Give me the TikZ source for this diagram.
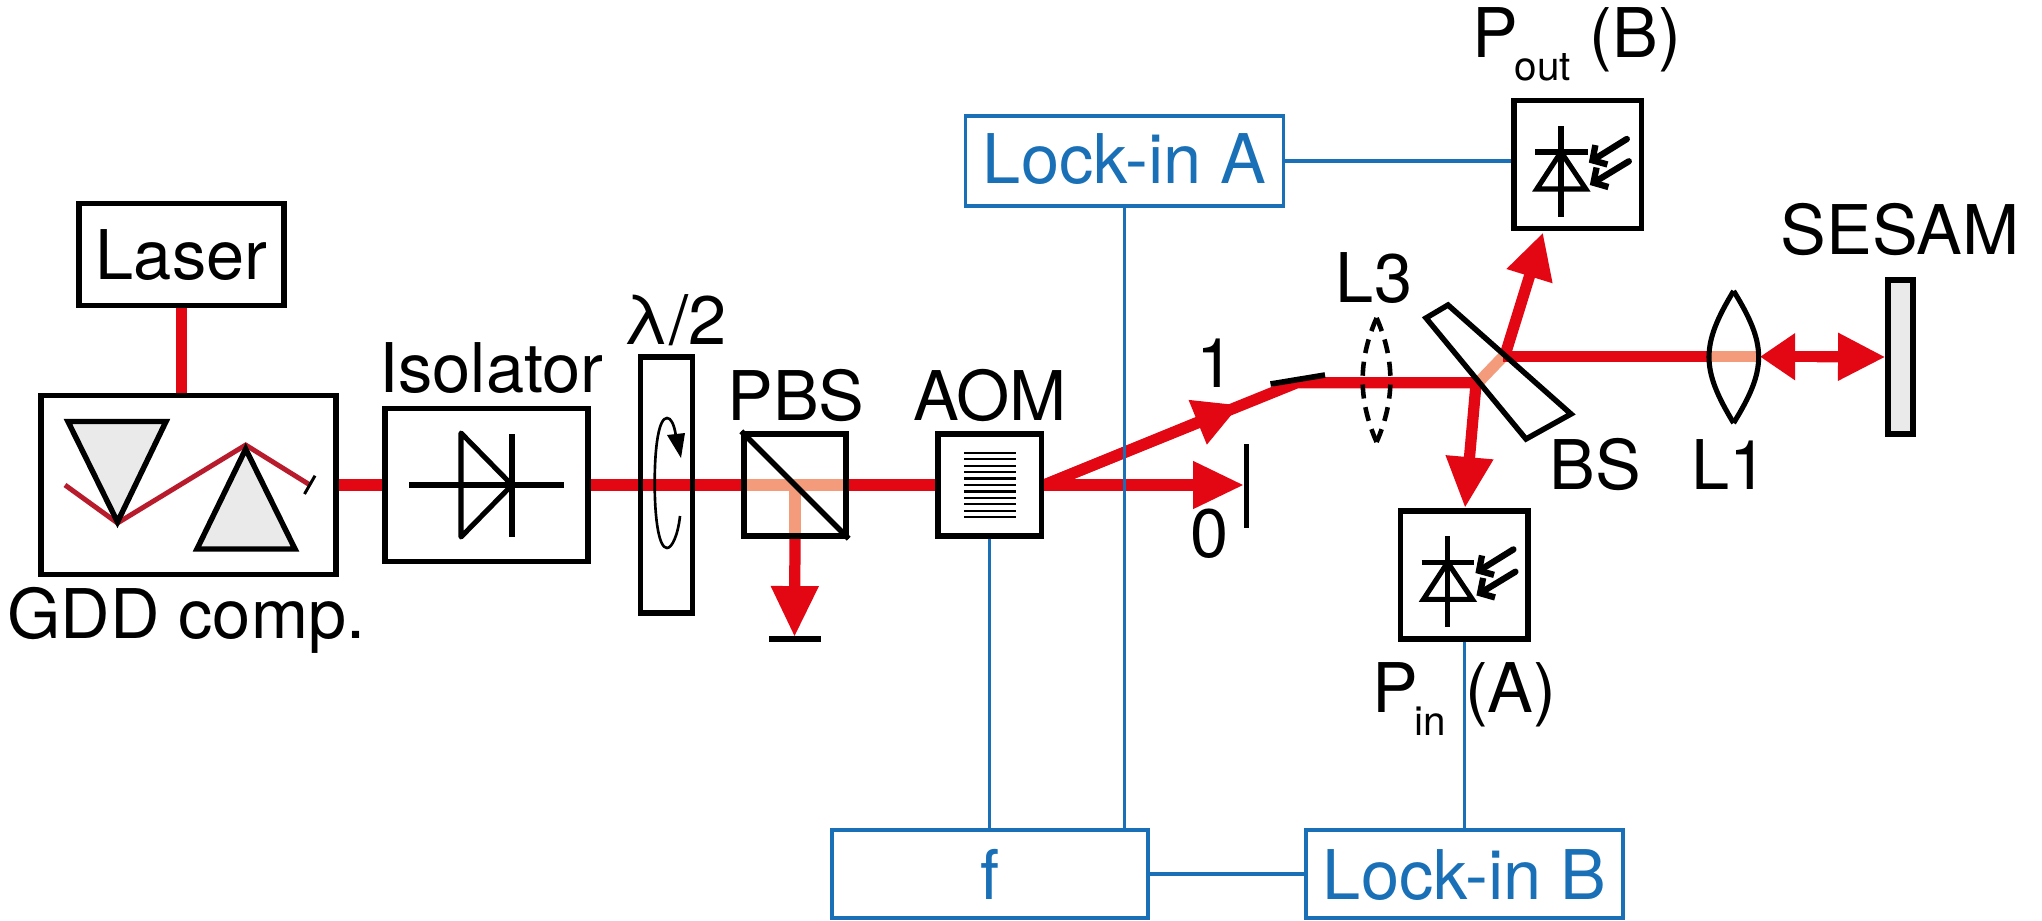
\documentclass[tikz,border=0pt]{standalone}
\usepackage{fontspec}
\setmainfont{TeX Gyre Heros}
\usetikzlibrary{arrows.meta,backgrounds}
\definecolor{beamred}{HTML}{E30613}
\definecolor{beamlight}{HTML}{F39B7B}
\definecolor{beamdark}{HTML}{B81C2C}
\definecolor{sigblue}{HTML}{1A70B7}
\definecolor{prismgray}{HTML}{EAEAEA}
\def\px{0.02cm}
\newcommand{\labfont}{\fontsize{39}{41}\selectfont}
\newcommand{\subfont}{\fontsize{23}{25}\selectfont}
\tikzset{
  blackline/.style={draw=black,line width=3.1pt,miter limit=10},
  thinblack/.style={draw=black,line width=2.9pt},
  opticbox/.style={blackline,inner sep=0pt,font=\labfont,text height=28.5pt,text depth=0pt},
  sigbox/.style={draw=sigblue,text=sigblue,line width=2pt,inner sep=0pt,font=\labfont,text height=28.5pt,text depth=0pt},
  sigline/.style={draw=sigblue,line width=1.8pt},
  lab/.style={inner sep=0pt,anchor=base,font=\labfont},
  beam/.style={draw=beamred,line width=6.4pt},
  lightbeam/.style={draw=beamlight,line width=6.4pt},
  darkbeam/.style={draw=beamdark,line width=2.8pt},
  bigtip/.style={-{Triangle[length=29pt,width=25.5pt]}},
  prism/.style={blackline,fill=prismgray},
  lightarrow/.style={draw=black,line width=3.6pt,line cap=round,-{Straight Barb[length=6pt,width=13pt]}}
}
\newcommand{\photodiode}[2]{%
  \begin{scope}[shift={(#1,#2)}]
    \draw[thinblack] (-16.8,-38.6) -- (-16.8,52);
    \draw[thinblack] (-42.8,-12.6) -- (9.8,-12.6);
    \draw[thinblack] (-16.8,-12.6) -- (-41,24.4) -- (8,24.4) -- cycle;
    \draw[lightarrow] (49,-25.6) -- (11,-2);
    \draw[lightarrow] (51,-3.3) -- (12,20.4);
  \end{scope}}
\begin{document}
\begin{tikzpicture}[x=\px,y=-\px]
\useasboundingbox (0,0) rectangle (2042,920);

% boxes
\node[opticbox,minimum width=205*\px,minimum height=102*\px] (laser) at (181.5,254.5) {Laser};
\node[opticbox,minimum width=295*\px,minimum height=179*\px] (gdd) at (188.5,485) {};
\node[opticbox,minimum width=203*\px,minimum height=153.5*\px] (iso) at (486.5,485) {};
\node[opticbox,minimum width=51.5*\px,minimum height=256*\px] (hwp) at (666.5,485) {};
\node[opticbox,minimum width=102*\px,minimum height=102*\px] (pbs) at (795,485) {};
\node[opticbox,minimum width=103.5*\px,minimum height=102*\px] (aom) at (989.7,485) {};
\node[opticbox,minimum width=127.5*\px,minimum height=128.2*\px] (pdout) at (1577.8,164.6) {};
\node[opticbox,minimum width=127.5*\px,minimum height=128.2*\px] (pdin) at (1464.4,575) {};
\node[sigbox,minimum width=318*\px,minimum height=90.5*\px,text height=26pt] (lockA) at (1124.5,161) {Lock-in A};
\node[sigbox,minimum width=316*\px,minimum height=88*\px] (freq) at (990,874) {f};
\node[sigbox,minimum width=317*\px,minimum height=88*\px] (lockB) at (1464.5,874) {Lock-in B};
\node[draw=black,line width=2.9pt,fill=prismgray,inner sep=0pt,minimum width=25*\px,minimum height=154*\px] (sesam) at (1900.5,357) {};

% free ends of the beams
\coordinate (pbsc) at (pbs.center |- pbs.west);
\coordinate (pbsdown) at (pbs.center |- pbs.south);
\coordinate (stopc) at (794.5,637);
\coordinate (zerotip) at (1244,485);
\coordinate (onetip) at (1240,405);
\coordinate (mirr) at (1297,382.7);
\coordinate (bsin) at (1478,382.7);
\coordinate (bsout) at (1503,356.7);
\coordinate (l1l) at (1708,356.7);
\coordinate (l1r) at (1760,356.7);

% beams
\begin{scope}[on background layer]
  \draw[beam] (laser.south) -- (laser.south |- gdd.north);
  \draw[beam] (gdd.east) -- (iso.west);
  \draw[beam] (iso.east) -- (pbs.west);
  \draw[lightbeam] (pbs.west) -- (pbs.east);
  \draw[lightbeam] (pbsc) -- (pbsdown);
  \draw[beam] (pbs.east) -- (aom.west);
  \draw[beam,bigtip] (pbsdown) -- (stopc);
  \draw[beam,bigtip] (aom.east) -- (zerotip);
  \draw[beam] (aom.east) -- (mirr) -- (bsin);
  \draw[beam,-{Triangle[length=26pt,width=25.5pt]}] (aom.east) -- (onetip);
  \draw[lightbeam] (bsin) -- (bsout);
  \draw[beam] (bsout) -- (l1l);
  \draw[lightbeam] (l1l) -- (l1r);
  \draw[beam,-{Triangle[length=20pt,width=25.5pt]}] (1817,356.7) -- (l1r);
  \draw[beam,-{Triangle[length=27pt,width=25.5pt]}] (1817,356.7) -- (sesam.west);
  \draw[beam,-{Triangle[length=26pt,width=25.5pt]}] (1506,352) -- (1543,232.5);
  \draw[beam,-{Triangle[length=29pt,width=25.5pt]}] (1476,384) -- (1465,508);
\end{scope}

% signal lines
\draw[sigline] (aom.south) -- (aom.south |- freq.north);
\draw[sigline] (lockA.south) -- (lockA.south |- freq.north);
\draw[sigline] (lockA.east) -- (lockA.east -| pdout.west);
\draw[sigline] (freq.east) -- (lockB.west);
\draw[sigline] (pdin.south) -- (pdin.south |- lockB.north);

% prism compressor
\draw[darkbeam] (65,485) -- (117.5,523) -- (245.7,445) -- (310,485);
\draw[prism] (68,421.5) -- (166,421.5) -- (117.5,522) -- cycle;
\draw[prism] (197,549) -- (295,549) -- (245.7,449) -- cycle;
\draw[draw=black,line width=1.7pt] (315,475.7) -- (304.5,494);

% isolator diode
\draw[thinblack,line join=round] (461,433) -- (512,485) -- (461,537) -- cycle;
\draw[thinblack] (512,434) -- (512,536.5);
\draw[thinblack] (409,485) -- (564,485);

% half-wave plate rotation
\draw[draw=black,line width=1.5pt] (680,516) .. controls (678,535) and (672,548) .. (667,548) .. controls (659,548) and (654.7,520) .. (654.7,483) .. controls (654.7,445) and (659,418) .. (667,418) .. controls (671,418) and (674,424) .. (676,436);
\fill[black] (667,435) -- (685,433) -- (681,458) -- cycle;

% PBS diagonal, stops
\draw[blackline] (pbs.north west) -- (pbs.south east);
\draw[draw=black,line width=3.4pt] (769,638.7) -- (820.5,638.7);
\draw[draw=black,line width=2.4pt] (1246.5,444.3) -- (1246.5,527.7);

% AOM grating
\foreach \i in {0,...,10}
  \draw[draw=black,line width=1.2pt] (964.4,452.7+6.46*\i) -- (1016,452.7+6.46*\i);

% mirror, dashed lens
\draw[draw=black,line width=3.2pt] (1270.5,384) -- (1325,375);
\draw[draw=black,line width=2.6pt,dash pattern=on 8pt off 5pt] (1376.6,318) .. controls (1358,360) and (1358,400) .. (1376.6,442);
\draw[draw=black,line width=2.6pt,dash pattern=on 8pt off 5pt] (1376.6,318) .. controls (1395,360) and (1395,400) .. (1376.6,442);

% beam splitter, lens L1
\draw[blackline] (1426,318) -- (1448,305) -- (1571,414) -- (1526,439) -- cycle;
\draw[thinblack] (1733.6,291) .. controls (1700.8,345) and (1700.8,369) .. (1733.6,423);
\draw[thinblack] (1733.6,291) .. controls (1767,345) and (1767,369) .. (1733.6,423);

% photodiodes
\photodiode{1577.8}{164.6}
\photodiode{1464.4}{575}

% text
\node[lab] (tiso) at (491.5,392.3) {Isolator};
\node[lab] (tgdd) at (186.5,638) {GDD comp.};
\node[lab] (thwp) at (675,344) {λ/2};
\node[lab] (tpbs) at (796,420.7) {PBS};
\node[lab] (taom) at (990,420.7) {AOM};
\node[lab] (tone) at (1216,387) {1};
\node[lab] (tzero) at (1210,557) {0};
\node[lab] (tlthree) at (1374,302) {L3};
\node[lab] (tsesam) at (1900,254) {SESAM};
\node[lab] (tbs) at (1595,489) {BS};
\node[lab] (tlone) at (1729.6,489) {L1};
\node[lab,anchor=base west] (tpout) at (1472,57.3) {P\kern-2pt\raisebox{-13.2pt}{\subfont out}\ (B)};
\node[lab,anchor=base west] (tpin) at (1372,712.3) {P\kern-2pt\raisebox{-13.2pt}{\subfont in}\ (A)};
\end{tikzpicture}
\end{document}
